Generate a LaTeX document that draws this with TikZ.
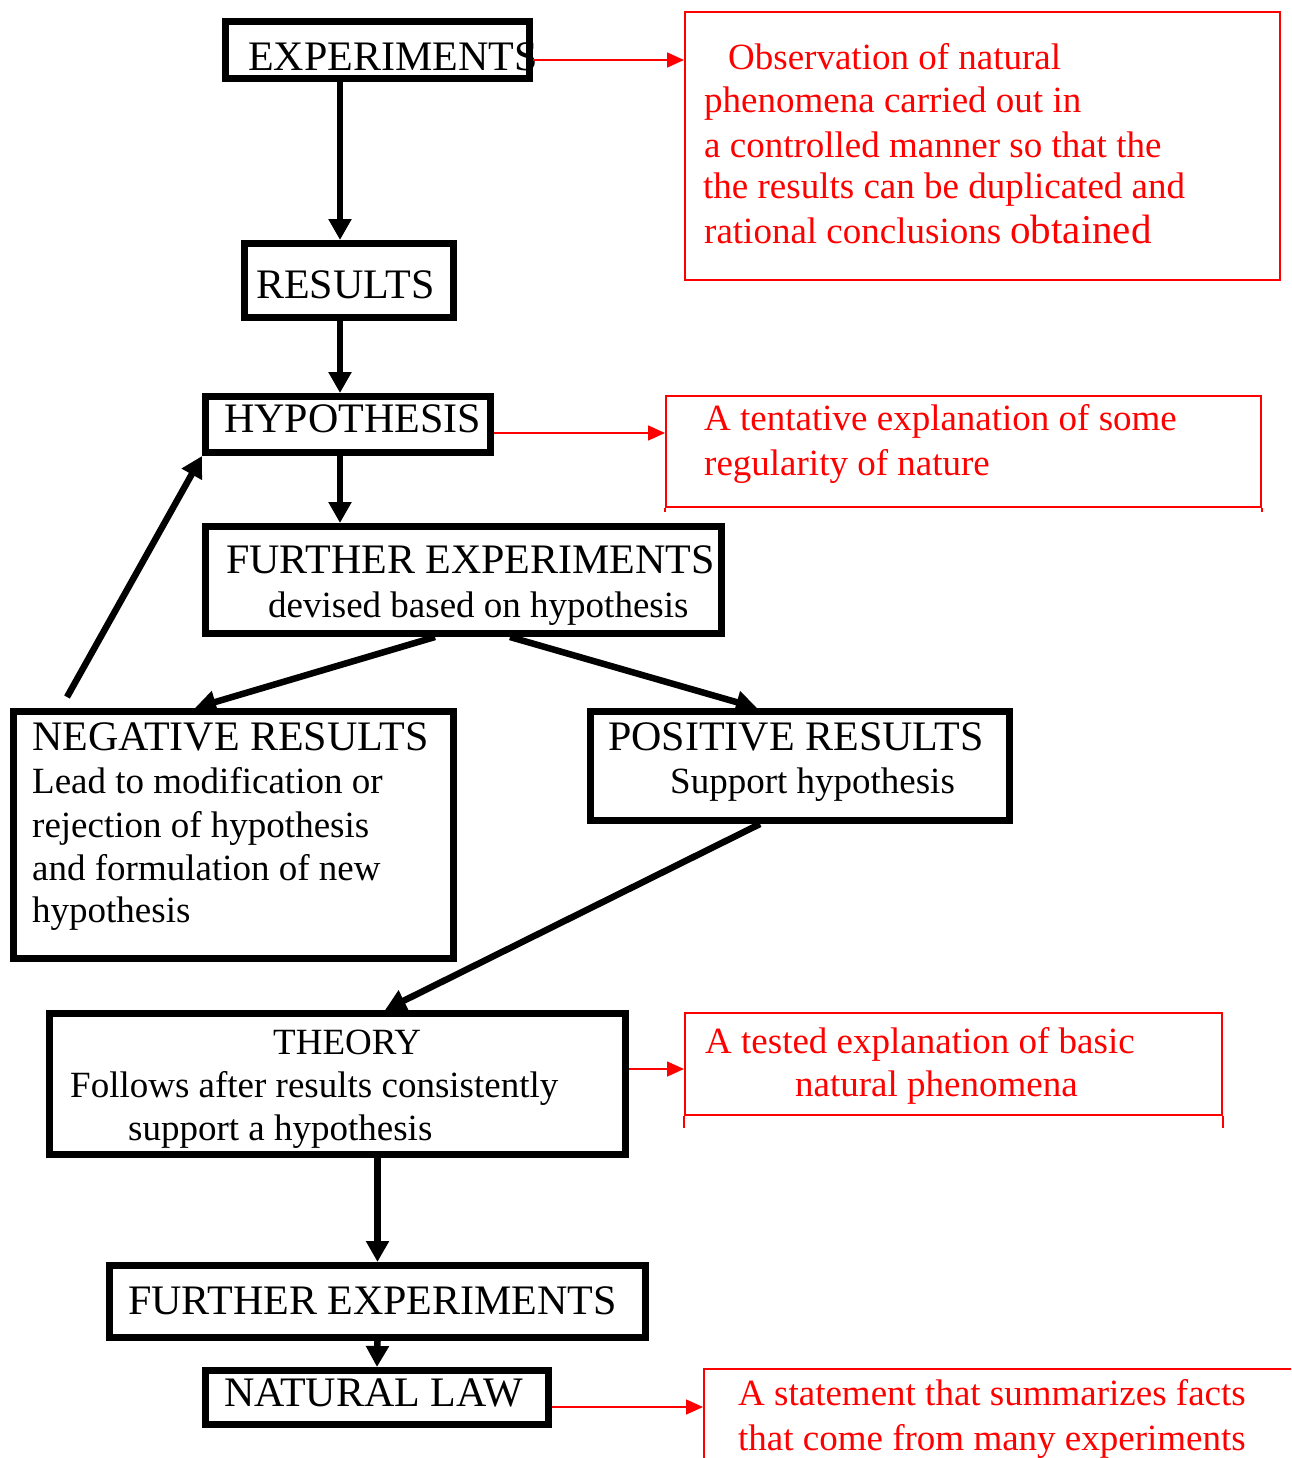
\documentclass[tikz,border=0pt]{standalone}
\usepackage{fontspec}
\setmainfont{Liberation Serif}
\usetikzlibrary{arrows.meta}
\begin{document}
\begin{tikzpicture}[x=1pt,y=-1pt]
\tikzset{
  box/.style={draw=black, line width=7pt, inner sep=0pt},
  note/.style={draw=red, line width=2pt, inner sep=0pt},
  noteedge/.style={draw=red, line width=2pt},
  flow/.style={line width=6.5pt, -{Triangle[width=22pt,length=21pt]}},
  link/.style={draw=red, line width=1.6pt, -{Triangle[width=15pt,length=17pt]}},
  big/.style={anchor=base west, inner sep=0pt, font=\fontsize{42}{50}\selectfont},
  sub/.style={anchor=base west, inner sep=0pt, font=\fontsize{37}{44}\selectfont},
  rtext/.style={anchor=base west, inner sep=0pt, text=red, font=\fontsize{37}{44}\selectfont},
}
\path[use as bounding box, clip] (0,0) rectangle (1291,1458);
\fill[white] (0,0) rectangle (1291,1458);

% black boxes
\node[box, minimum width=304pt, minimum height=57pt] (EXP) at (377.5,50) {};
\node[box, minimum width=209pt, minimum height=74pt] (RES) at (349,280.5) {};
\node[box, minimum width=285pt, minimum height=56pt] (HYP) at (348,424.5) {};
\node[box, minimum width=516pt, minimum height=107pt] (FE1) at (463.5,580) {};
\node[box, minimum width=440pt, minimum height=247pt] (NEG) at (233.5,835) {};
\node[box, minimum width=419pt, minimum height=109pt] (POS) at (800,766) {};
\node[box, minimum width=576pt, minimum height=141pt] (THE) at (337.5,1084) {};
\node[box, minimum width=536pt, minimum height=72pt] (FE2) at (377.5,1301.5) {};
\node[box, minimum width=343pt, minimum height=54pt] (NAT) at (377,1397.5) {};

% red boxes
\node[note, minimum width=595pt, minimum height=268pt] (R1) at (982.5,146) {};
\node[note, minimum width=595pt, minimum height=111pt] (R2) at (963.5,451.5) {};
\node[note, minimum width=537pt, minimum height=102pt] (R3) at (953.5,1064) {};
\node[note, minimum width=600pt, minimum height=110pt] (R4) at (1004,1424) {};
\draw[noteedge] (R2.south west) -- ++(0,4);
\draw[noteedge] (R2.south east) -- ++(0,4);
\draw[noteedge] (R3.south west) -- ++(0,12);
\draw[noteedge] (R3.south east) -- ++(0,12);

% texts in black boxes
\node[big] (tEXP) at (248,71) {EXPERIMENTS};
\node[big] (tRES) at (256,298) {RESULTS};
\node[big] (tHYP) at (224,432) {HYPOTHESIS};
\node[big] (tFE1) at (226,573) {FURTHER EXPERIMENTS};
\node[sub] (tFE1b) at (268,617) {devised based on hypothesis};
\node[big] (tNEG) at (32,750) {NEGATIVE RESULTS};
\node[sub] (tNEG1) at (32,793) {Lead to modification or};
\node[sub] (tNEG2) at (32,837) {rejection of hypothesis};
\node[sub] (tNEG3) at (32,880) {and formulation of new};
\node[sub] (tNEG4) at (32,922) {hypothesis};
\node[big] (tPOS) at (608,750) {POSITIVE RESULTS};
\node[sub] (tPOS1) at (670,793) {Support hypothesis};
\node[sub] (tTHE) at (273,1054) {THEORY};
\node[sub] (tTHE1) at (70,1097) {Follows after results consistently};
\node[sub] (tTHE2) at (128,1140) {support a hypothesis};
\node[big] (tFE2) at (128,1314) {FURTHER EXPERIMENTS};
\node[big] (tNAT) at (224,1406) {NATURAL LAW};

% red texts
\node[rtext] (r1a) at (728,70) {Observation of natural};
\node[rtext] (r1b) at (704,113) {phenomena carried out in};
\node[rtext] (r1c) at (704,158) {a controlled manner so that the};
\node[rtext] (r1d) at (703,198) {the results can be duplicated and};
\node[rtext] (r1e) at (704,243) {rational conclusions {\fontsize{41}{44}\selectfont obtained}};
\node[rtext] (r2a) at (704,430) {A tentative explanation of some};
\node[rtext] (r2b) at (704,475) {regularity of nature};
\node[rtext] (r3a) at (705,1053) {A tested explanation of basic};
\node[rtext] (r3b) at (795,1096) {natural phenomena};
\node[rtext] (r4a) at (738,1405) {A statement that summarizes facts};
\node[rtext] (r4b) at (738,1450) {that come from many experiments};

% black connectors
\coordinate (colA) at (340,0);
\draw[flow] (EXP.south -| colA) -- (RES.north -| colA);
\draw[flow] (RES.south -| colA) -- (HYP.north -| colA);
\draw[flow] (HYP.south -| colA) -- (FE1.north -| colA);
\draw[flow] ([xshift=-28.5pt]FE1.south) -- ([xshift=-38.5pt]NEG.north);
\draw[flow] ([xshift=46.5pt]FE1.south) -- ([xshift=-43pt]POS.north);
\coordinate (negout) at (67,697);
\draw[flow] (negout) -- (HYP.south west);
\draw[flow] ([xshift=-40pt]POS.south) -- ([xshift=47.5pt]THE.north);
\draw[flow] (THE.south -| FE2.north) -- (FE2.north);
\draw[flow] (FE2.south) -- (NAT.north);

% red connectors
\coordinate (c1) at ([yshift=-10pt]EXP.east);
\draw[link] (c1) -- (c1 -| R1.west);
\coordinate (c2) at ([yshift=-8.5pt]HYP.east);
\draw[link] (c2) -- (c2 -| R2.west);
\coordinate (c3) at ([yshift=15pt]THE.east);
\draw[link] (c3) -- (c3 -| R3.west);
\coordinate (c4) at ([yshift=-9.5pt]NAT.east);
\draw[link] (c4) -- (c4 -| R4.west);
\end{tikzpicture}
\end{document}
